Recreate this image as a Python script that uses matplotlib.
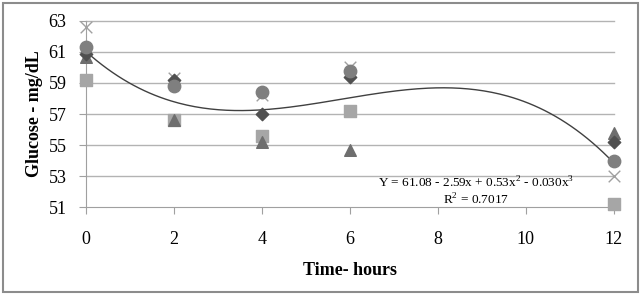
import matplotlib.pyplot as plt
import matplotlib.patches as patches
import numpy as np

plt.rcParams['font.family'] = ['Liberation Serif', 'DejaVu Serif']
plt.rcParams['mathtext.fontset'] = 'custom'
plt.rcParams['mathtext.rm'] = 'Liberation Serif'

# sampling times (hours) and glucose readings (mg/dL) per animal
hours = [0, 2, 4, 6, 12]
diamond = [60.9, 59.2, 57.0, 59.4, 55.2]
square = [59.2, 56.6, 55.6, 57.2, 51.2]
triangle = [60.7, 56.6, 55.2, 54.7, 55.8]
cross = [62.6, 59.3, 58.2, 60.0, 53.0]
circle = [61.3, 58.8, 58.4, 59.8, 54.0]

yticks = [51, 53, 55, 57, 59, 61, 63]
xticks = [0, 2, 4, 6, 8, 10, 12]

fig = plt.figure(figsize=(6.42, 2.95), dpi=100)
ax = fig.add_axes([0.134, 0.298, 0.822, 0.631])

# outer frame like an Excel chart area
fig.patches.append(patches.Rectangle((0.005, 0.01), 0.989, 0.98, transform=fig.transFigure,
                                     fill=False, edgecolor='#8c8c8c', linewidth=1.5))

for y in yticks[1:]:
    ax.axhline(y, color='#b3b3b3', linewidth=1, zorder=0, clip_on=False)

# cubic trendline fitted over all readings
all_x = np.tile(hours, 5)
all_y = np.concatenate([diamond, square, triangle, cross, circle])
coef = np.polyfit(all_x, all_y, 3)
xs = np.linspace(0, 12, 200)
ax.plot(xs, np.polyval(coef, xs), color='#404040', linewidth=1, zorder=2)

kw = dict(zorder=3, clip_on=False)
ax.scatter(hours, square, marker='s', s=70, color='#a6a6a6', **kw)
ax.scatter(hours, triangle, marker='^', s=70, color='#6e6e6e', **kw)
ax.scatter(hours, cross, marker='x', s=70, color='#a0a0a0', linewidths=1, **kw)
ax.scatter(hours, diamond, marker='D', s=40, color='#505050', **kw)
ax.scatter(hours, circle, marker='o', s=80, color='#7f7f7f', **kw)

ax.set_xlim(0, 12)
ax.set_ylim(51, 63)
ax.set_xticks(xticks)
ax.set_yticks(yticks)
ax.tick_params(axis='both', labelsize=13, color='#a0a0a0', length=5)
ax.tick_params(axis='x', pad=12)
ax.tick_params(axis='y', pad=9)
for s in ['top', 'right']:
    ax.spines[s].set_visible(False)
for s in ['left', 'bottom']:
    ax.spines[s].set_color('#a0a0a0')

ax.set_xlabel('Time- hours', fontsize=13, fontweight='bold', labelpad=10)
ax.set_ylabel('Glucose - mg/dL', fontsize=13, fontweight='bold', labelpad=4)

ax.text(8.88, 52.0, 'Y = 61.08 - 2.59x + 0.53x$^{2}$ - 0.030x$^{3}$\nR$^{2}$ = 0.7017',
        fontsize=9.5, ha='center', va='center', linespacing=1.15)

fig.savefig('out.png', dpi=100)
